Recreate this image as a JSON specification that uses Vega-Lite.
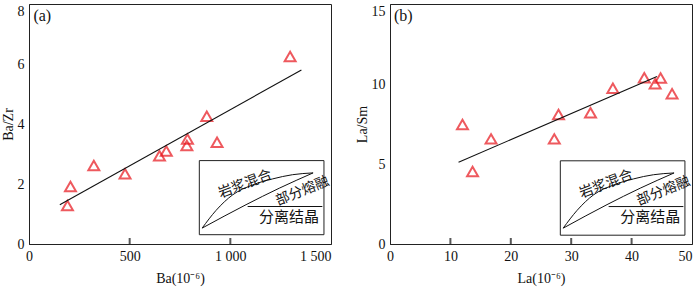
{
  "$schema": "https://vega.github.io/schema/vega-lite/v6.json",
  "padding": {"left": 0, "top": 3, "right": 4, "bottom": 2},
  "background": "white",
  "bounds": "flush",
  "spacing": 59,
  "config": {
    "view": {"stroke": "#222222", "strokeWidth": 1},
    "font": "Liberation Serif",
    "axis": {
      "grid": false,
      "domainColor": "#222222",
      "labelFont": "Liberation Serif",
      "labelFontSize": 14,
      "labelColor": "#111111",
      "labelOverlap": false,
      "labelBound": false,
      "labelFlush": false,
      "titleFont": "Liberation Serif",
      "titleFontSize": 14,
      "titleFontWeight": "normal",
      "titleColor": "#111111"
    },
    "axisX": {"ticks": false, "tickSize": 0, "labelPadding": 5, "titlePadding": 8},
    "axisY": {"ticks": false, "tickSize": 0, "labelPadding": 5, "titlePadding": 2}
  },
  "datasets": {
    "ptsA": [
      {"Ba": 191, "BaZr": 1.28}, {"Ba": 206, "BaZr": 1.92}, {"Ba": 322, "BaZr": 2.62},
      {"Ba": 477, "BaZr": 2.34}, {"Ba": 648, "BaZr": 2.94}, {"Ba": 682, "BaZr": 3.1},
      {"Ba": 784, "BaZr": 3.28}, {"Ba": 787, "BaZr": 3.5}, {"Ba": 883, "BaZr": 4.26},
      {"Ba": 934, "BaZr": 3.39}, {"Ba": 1297, "BaZr": 6.25}
    ],
    "fitA": [{"Ba": 153, "BaZr": 1.31}, {"Ba": 1353, "BaZr": 5.8}],
    "ticksA": [{"Ba": 500, "BaZr": 0}, {"Ba": 1000, "BaZr": 0}],
    "boxA": [{"x1": 846, "x2": 1465, "y1": 0.31, "y2": 2.78}],
    "curvA": [
      {"seg": "mix", "o": 1, "x": 860, "y": 0.53}, {"seg": "mix", "o": 2, "x": 929, "y": 1.12},
      {"seg": "mix", "o": 3, "x": 1012, "y": 1.64}, {"seg": "mix", "o": 4, "x": 1111, "y": 1.97},
      {"seg": "mix", "o": 5, "x": 1210, "y": 2.17}, {"seg": "mix", "o": 6, "x": 1309, "y": 2.31},
      {"seg": "mix", "o": 7, "x": 1411, "y": 2.37},
      {"seg": "melt", "o": 1, "x": 860, "y": 0.53}, {"seg": "melt", "o": 2, "x": 1078, "y": 1.31},
      {"seg": "melt", "o": 3, "x": 1243, "y": 1.86}, {"seg": "melt", "o": 4, "x": 1411, "y": 2.37},
      {"seg": "fc", "o": 1, "x": 1086, "y": 1.25}, {"seg": "fc", "o": 2, "x": 1457, "y": 1.25}
    ],
    "ptsB": [
      {"La": 12.0, "LaSm": 7.47}, {"La": 13.67, "LaSm": 4.53}, {"La": 16.73, "LaSm": 6.57},
      {"La": 27.2, "LaSm": 6.57}, {"La": 27.9, "LaSm": 8.09}, {"La": 33.2, "LaSm": 8.2},
      {"La": 36.9, "LaSm": 9.74}, {"La": 42.1, "LaSm": 10.39}, {"La": 43.9, "LaSm": 10.01},
      {"La": 44.8, "LaSm": 10.37}, {"La": 46.7, "LaSm": 9.39}
    ],
    "fitB": [{"La": 11.35, "LaSm": 5.11}, {"La": 44.2, "LaSm": 10.47}],
    "ticksB": [{"La": 10, "LaSm": 0}, {"La": 20, "LaSm": 0}, {"La": 30, "LaSm": 0}, {"La": 40, "LaSm": 0}],
    "boxB": [{"x1": 28.2, "x2": 48.83, "y1": 0.55, "y2": 5.2}],
    "curvB": [
      {"seg": "mix", "o": 1, "x": 28.67, "y": 0.99}, {"seg": "mix", "o": 2, "x": 30.97, "y": 2.1},
      {"seg": "mix", "o": 3, "x": 33.73, "y": 3.08}, {"seg": "mix", "o": 4, "x": 37.03, "y": 3.69},
      {"seg": "mix", "o": 5, "x": 40.33, "y": 4.07}, {"seg": "mix", "o": 6, "x": 43.63, "y": 4.33},
      {"seg": "mix", "o": 7, "x": 47.03, "y": 4.44},
      {"seg": "melt", "o": 1, "x": 28.67, "y": 0.99}, {"seg": "melt", "o": 2, "x": 35.93, "y": 2.46},
      {"seg": "melt", "o": 3, "x": 41.43, "y": 3.49}, {"seg": "melt", "o": 4, "x": 47.03, "y": 4.44},
      {"seg": "fc", "o": 1, "x": 36.2, "y": 2.34}, {"seg": "fc", "o": 2, "x": 48.57, "y": 2.34}
    ]
  },
  "hconcat": [
    {
      "width": 302,
      "height": 240,
      "layer": [
        {
          "data": {"name": "ptsA"},
          "mark": {"type": "point", "shape": "triangle-up", "filled": false, "stroke": "#e8141b", "strokeWidth": 2, "size": 120},
          "encoding": {
            "x": {"field": "Ba", "type": "quantitative", "title": "Ba(10⁻⁶)",
              "scale": {"domain": [0, 1500], "nice": false, "zero": false},
              "axis": {"values": [0, 500, 1000, 1500],
                "labelAlign": {"condition": {"test": "datum.value == 1500", "value": "right"}, "value": "center"},
                "labelExpr": "datum.value >= 1000 ? replace(format(datum.value, ','), ',', ' ') : datum.label"}},
            "y": {"field": "BaZr", "type": "quantitative", "title": "Ba/Zr",
              "scale": {"domain": [0, 8], "nice": false},
              "axis": {"values": [0, 2, 4, 6, 8], "labelOverlap": false,
                "labelBaseline": {"condition": {"test": "datum.value == 8", "value": "top"}, "value": "middle"}}}
          }
        },
        {
          "data": {"name": "ticksA"},
          "mark": {"type": "tick", "orient": "vertical", "color": "#111111", "thickness": 2, "size": 6, "yOffset": -3},
          "encoding": {"x": {"field": "Ba", "type": "quantitative"}, "y": {"field": "BaZr", "type": "quantitative"}}
        },
        {
          "data": {"name": "fitA"},
          "mark": {"type": "line", "color": "#111111", "strokeWidth": 1.1},
          "encoding": {"x": {"field": "Ba", "type": "quantitative"}, "y": {"field": "BaZr", "type": "quantitative"}}
        },
        {
          "data": {"name": "boxA"},
          "mark": {"type": "rect", "fill": "white", "stroke": "#222222", "strokeWidth": 1},
          "encoding": {
            "x": {"field": "x1", "type": "quantitative"}, "x2": {"field": "x2"},
            "y": {"field": "y1", "type": "quantitative"}, "y2": {"field": "y2"}
          }
        },
        {
          "data": {"name": "curvA"},
          "mark": {"type": "line", "color": "#111111", "strokeWidth": 1, "interpolate": "monotone"},
          "encoding": {
            "x": {"field": "x", "type": "quantitative"},
            "y": {"field": "y", "type": "quantitative"},
            "detail": {"field": "seg"},
            "order": {"field": "o"}
          }
        },
        {
          "data": {"values": [{"x": 1074, "y": 1.99, "t": "岩浆混合"}]},
          "mark": {"type": "text", "font": "Noto Sans CJK SC", "fontSize": 14, "angle": -21, "color": "#111111"},
          "encoding": {"x": {"field": "x", "type": "quantitative"}, "y": {"field": "y", "type": "quantitative"}, "text": {"field": "t"}}
        },
        {
          "data": {"values": [{"x": 1358, "y": 1.76, "t": "部分熔融"}]},
          "mark": {"type": "text", "font": "Noto Sans CJK SC", "fontSize": 14, "angle": -22, "color": "#111111"},
          "encoding": {"x": {"field": "x", "type": "quantitative"}, "y": {"field": "y", "type": "quantitative"}, "text": {"field": "t"}}
        },
        {
          "data": {"values": [{"x": 1292, "y": 0.89, "t": "分离结晶"}]},
          "mark": {"type": "text", "font": "Noto Sans CJK SC", "fontSize": 15, "color": "#111111"},
          "encoding": {"x": {"field": "x", "type": "quantitative"}, "y": {"field": "y", "type": "quantitative"}, "text": {"field": "t"}}
        },
        {
          "data": {"values": [{"x": 66, "y": 7.59, "t": "(a)"}]},
          "mark": {"type": "text", "font": "Liberation Serif", "fontSize": 16, "color": "#111111"},
          "encoding": {"x": {"field": "x", "type": "quantitative"}, "y": {"field": "y", "type": "quantitative"}, "text": {"field": "t"}}
        }
      ]
    },
    {
      "width": 302,
      "height": 240,
      "layer": [
        {
          "data": {"name": "ptsB"},
          "mark": {"type": "point", "shape": "triangle-up", "filled": false, "stroke": "#e8141b", "strokeWidth": 2, "size": 120},
          "encoding": {
            "x": {"field": "La", "type": "quantitative", "title": "La(10⁻⁶)",
              "scale": {"domain": [0, 50], "nice": false, "zero": false},
              "axis": {"values": [0, 10, 20, 30, 40, 50],
                "labelAlign": {"condition": {"test": "datum.value == 50", "value": "right"}, "value": "center"}}},
            "y": {"field": "LaSm", "type": "quantitative", "title": "La/Sm",
              "scale": {"domain": [0, 15], "nice": false},
              "axis": {"values": [0, 5, 10, 15], "labelOverlap": false,
                "labelBaseline": {"condition": {"test": "datum.value == 15", "value": "top"}, "value": "middle"}}}
          }
        },
        {
          "data": {"name": "ticksB"},
          "mark": {"type": "tick", "orient": "vertical", "color": "#111111", "thickness": 2, "size": 6, "yOffset": -3},
          "encoding": {"x": {"field": "La", "type": "quantitative"}, "y": {"field": "LaSm", "type": "quantitative"}}
        },
        {
          "data": {"name": "fitB"},
          "mark": {"type": "line", "color": "#111111", "strokeWidth": 1.1},
          "encoding": {"x": {"field": "La", "type": "quantitative"}, "y": {"field": "LaSm", "type": "quantitative"}}
        },
        {
          "data": {"name": "boxB"},
          "mark": {"type": "rect", "fill": "white", "stroke": "#222222", "strokeWidth": 1},
          "encoding": {
            "x": {"field": "x1", "type": "quantitative"}, "x2": {"field": "x2"},
            "y": {"field": "y1", "type": "quantitative"}, "y2": {"field": "y2"}
          }
        },
        {
          "data": {"name": "curvB"},
          "mark": {"type": "line", "color": "#111111", "strokeWidth": 1, "interpolate": "monotone"},
          "encoding": {
            "x": {"field": "x", "type": "quantitative"},
            "y": {"field": "y", "type": "quantitative"},
            "detail": {"field": "seg"},
            "order": {"field": "o"}
          }
        },
        {
          "data": {"values": [{"x": 35.8, "y": 3.73, "t": "岩浆混合"}]},
          "mark": {"type": "text", "font": "Noto Sans CJK SC", "fontSize": 14, "angle": -21, "color": "#111111"},
          "encoding": {"x": {"field": "x", "type": "quantitative"}, "y": {"field": "y", "type": "quantitative"}, "text": {"field": "t"}}
        },
        {
          "data": {"values": [{"x": 45.27, "y": 3.3, "t": "部分熔融"}]},
          "mark": {"type": "text", "font": "Noto Sans CJK SC", "fontSize": 14, "angle": -22, "color": "#111111"},
          "encoding": {"x": {"field": "x", "type": "quantitative"}, "y": {"field": "y", "type": "quantitative"}, "text": {"field": "t"}}
        },
        {
          "data": {"values": [{"x": 43.07, "y": 1.67, "t": "分离结晶"}]},
          "mark": {"type": "text", "font": "Noto Sans CJK SC", "fontSize": 15, "color": "#111111"},
          "encoding": {"x": {"field": "x", "type": "quantitative"}, "y": {"field": "y", "type": "quantitative"}, "text": {"field": "t"}}
        },
        {
          "data": {"values": [{"x": 2.2, "y": 14.28, "t": "(b)"}]},
          "mark": {"type": "text", "font": "Liberation Serif", "fontSize": 16, "color": "#111111"},
          "encoding": {"x": {"field": "x", "type": "quantitative"}, "y": {"field": "y", "type": "quantitative"}, "text": {"field": "t"}}
        }
      ]
    }
  ]
}
